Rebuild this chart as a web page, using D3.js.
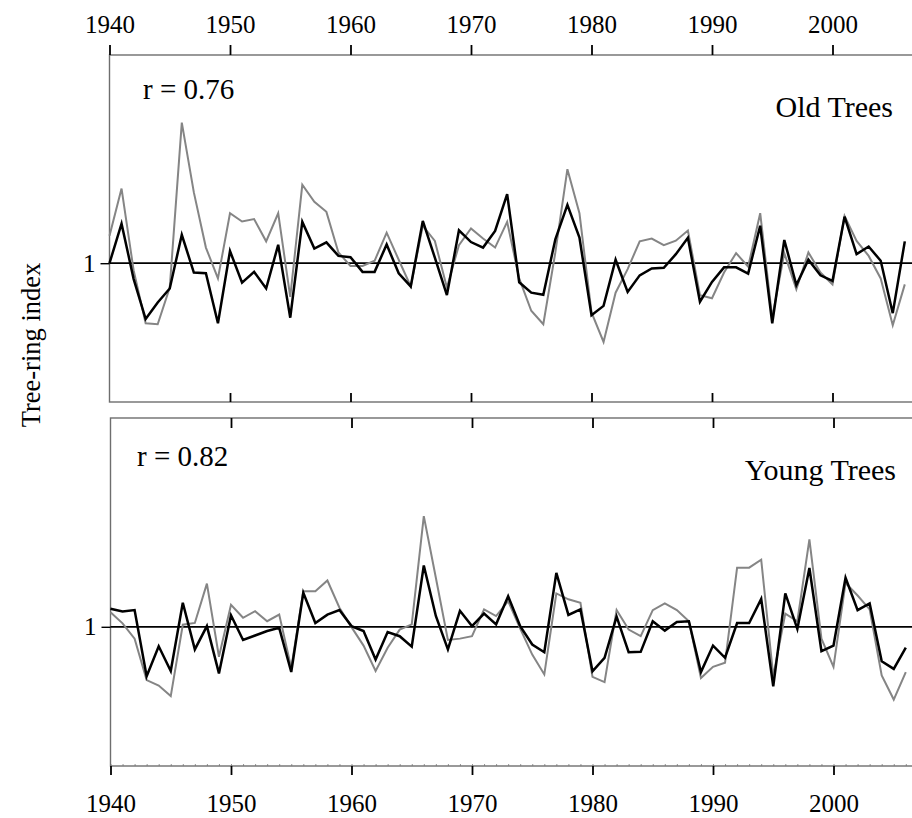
<!DOCTYPE html>
<html><head><meta charset="utf-8">
<script src="https://cdn.jsdelivr.net/npm/d3@7"></script>
<style>body{margin:0;background:#fff}svg{display:block}</style>
</head><body><svg id="c" width="912" height="818"></svg>
<script>
const years = [1940,1941,1942,1943,1944,1945,1946,1947,1948,1949,1950,1951,1952,1953,1954,1955,1956,1957,1958,1959,1960,1961,1962,1963,1964,1965,1966,1967,1968,1969,1970,1971,1972,1973,1974,1975,1976,1977,1978,1979,1980,1981,1982,1983,1984,1985,1986,1987,1988,1989,1990,1991,1992,1993,1994,1995,1996,1997,1998,1999,2000,2001,2002,2003,2004,2005,2006];
const tickYears = [1940,1950,1960,1970,1980,1990,2000];
const oldBlack = [1.000,1.114,0.955,0.839,0.887,0.927,1.082,0.973,0.971,0.827,1.035,0.944,0.975,0.927,1.053,0.843,1.119,1.042,1.060,1.021,1.017,0.975,0.975,1.054,0.971,0.933,1.122,1.016,0.908,1.095,1.061,1.045,1.093,1.199,0.945,0.915,0.909,1.069,1.168,1.074,0.850,0.877,1.010,0.917,0.965,0.985,0.987,1.026,1.073,0.889,0.946,0.988,0.988,0.970,1.108,0.827,1.067,0.937,1.010,0.965,0.949,1.134,1.026,1.048,1.007,0.856,1.063];
const oldGray = [1.079,1.215,0.980,0.827,0.824,0.930,1.405,1.204,1.045,0.956,1.144,1.120,1.127,1.063,1.144,0.903,1.226,1.177,1.148,1.031,0.992,0.992,1.007,1.088,1.010,0.933,1.108,1.064,0.930,1.052,1.100,1.071,1.045,1.119,0.956,0.863,0.824,1.031,1.271,1.144,0.858,0.773,0.915,0.983,1.063,1.071,1.052,1.065,1.094,0.908,0.899,0.973,1.029,0.990,1.144,0.843,1.029,0.925,1.031,0.973,0.939,1.136,1.064,1.021,0.956,0.821,0.939];
const youngBlack = [1.052,1.044,1.048,0.858,0.944,0.873,1.069,0.935,1.002,0.866,1.033,0.962,0.975,0.988,0.997,0.870,1.098,1.011,1.035,1.048,1.002,0.988,0.906,0.985,0.973,0.943,1.176,1.031,0.935,1.046,1.002,1.038,1.007,1.088,1.002,0.949,0.927,1.155,1.034,1.050,0.872,0.911,1.029,0.927,0.928,1.016,0.989,1.014,1.016,0.870,0.946,0.911,1.011,1.011,1.080,0.829,1.096,0.994,1.169,0.930,0.946,1.141,1.048,1.067,0.901,0.879,0.940];
const youngGray = [1.042,1.010,0.966,0.847,0.831,0.801,1.006,1.011,1.124,0.914,1.063,1.026,1.045,1.016,1.035,0.882,1.102,1.102,1.133,1.055,0.999,0.946,0.873,0.940,0.992,1.007,1.318,1.141,0.962,0.966,0.973,1.050,1.031,1.074,0.995,0.920,0.863,1.096,1.079,1.069,0.856,0.841,1.048,0.992,0.973,1.048,1.067,1.048,1.016,0.853,0.885,0.897,1.170,1.170,1.193,0.858,1.038,1.016,1.251,0.966,0.885,1.126,1.090,1.050,0.860,0.791,0.870];
const panels = [
  {label:"Old Trees", r:"r = 0.76", black:oldBlack, gray:oldGray},
  {label:"Young Trees", r:"r = 0.82", black:youngBlack, gray:youngGray}
];

const svg = d3.select("#c");
const font = "'Liberation Serif','Times New Roman',serif";
const geo = [
  {top:55, bottom:402, dx:0, rx:143, ry:99, lx:893, ly:117},
  {top:418, bottom:766, dx:1, rx:137, ry:466, lx:896, ly:480}
];
const axisGray = "#6e6e6e";

panels.forEach((p,i)=>{
  const g = geo[i];
  const x = d3.scaleLinear().domain([1940,2000]).range([109.5+g.dx, 832.5+g.dx]);
  const y = d3.scaleLinear().domain([0.6,1.6]).range([g.bottom, g.top]);
  const x0 = x(1940), x1 = x(2007.2);
  const G = svg.append("g");
  G.append("rect").attr("x",x0).attr("y",g.top).attr("width",x1-x0).attr("height",g.bottom-g.top)
    .attr("fill","none").attr("stroke",axisGray).attr("stroke-width",1.4);
  G.append("line").attr("x1",x0).attr("x2",x1).attr("y1",y(1)).attr("y2",y(1))
    .attr("stroke","#000").attr("stroke-width",1.8);
  const line = arr => d3.line().x((d,j)=>x(years[j])).y(d=>y(d))(arr);
  G.append("path").attr("d",line(p.gray)).attr("fill","none").attr("stroke","#858585").attr("stroke-width",2).attr("stroke-linejoin","miter");
  G.append("path").attr("d",line(p.black)).attr("fill","none").attr("stroke","#000").attr("stroke-width",2.5).attr("stroke-linejoin","miter");
  const styleAx = sel => {
    sel.select(".domain").remove();
    sel.selectAll(".tick line").attr("stroke","#000").attr("stroke-width",1.8);
    sel.selectAll(".tick text").attr("font-family",font).attr("font-size",25).attr("fill","#000");
  };
  if(i===0){
    const ax = G.append("g").attr("transform",`translate(0,${g.top})`)
      .call(d3.axisTop(x).tickValues(tickYears).tickSize(10).tickPadding(12).tickFormat(d3.format("d")));
    styleAx(ax);
    const ab = G.append("g").attr("transform",`translate(0,${g.bottom})`)
      .call(d3.axisBottom(x).tickValues(tickYears.slice(1)).tickSize(-9).tickFormat(""));
    styleAx(ab);
  } else {
    const at = G.append("g").attr("transform",`translate(0,${g.top})`)
      .call(d3.axisTop(x).tickValues(tickYears.slice(1)).tickSize(-10).tickFormat(""));
    styleAx(at);
    const minor = G.append("g").attr("transform",`translate(0,${g.bottom})`)
      .call(d3.axisBottom(x).tickValues(years).tickSize(-2).tickFormat(""));
    minor.select(".domain").remove();
    minor.selectAll(".tick line").attr("stroke","#777").attr("stroke-width",0.8);
    const ab = G.append("g").attr("transform",`translate(0,${g.bottom})`)
      .call(d3.axisBottom(x).tickValues(tickYears).tickSize(9).tickPadding(19).tickFormat(d3.format("d")));
    styleAx(ab);
  }
  const al = G.append("g").attr("transform",`translate(${x0},0)`)
    .call(d3.axisLeft(y).tickValues([1]).tickSize(9).tickPadding(5).tickFormat(d3.format("d")));
  styleAx(al);
  al.selectAll(".tick line").attr("stroke-width",1.4);
  G.append("text").attr("x",g.rx).attr("y",g.ry).attr("font-family",font).attr("font-size",29).text(p.r);
  G.append("text").attr("x",g.lx).attr("y",g.ly).attr("text-anchor","end").attr("font-family",font).attr("font-size",30).text(p.label);
});

svg.append("text").attr("transform","translate(40,345) rotate(-90)").attr("text-anchor","middle")
  .attr("font-family",font).attr("font-size",26.5).text("Tree-ring index");
</script>
</body></html>
